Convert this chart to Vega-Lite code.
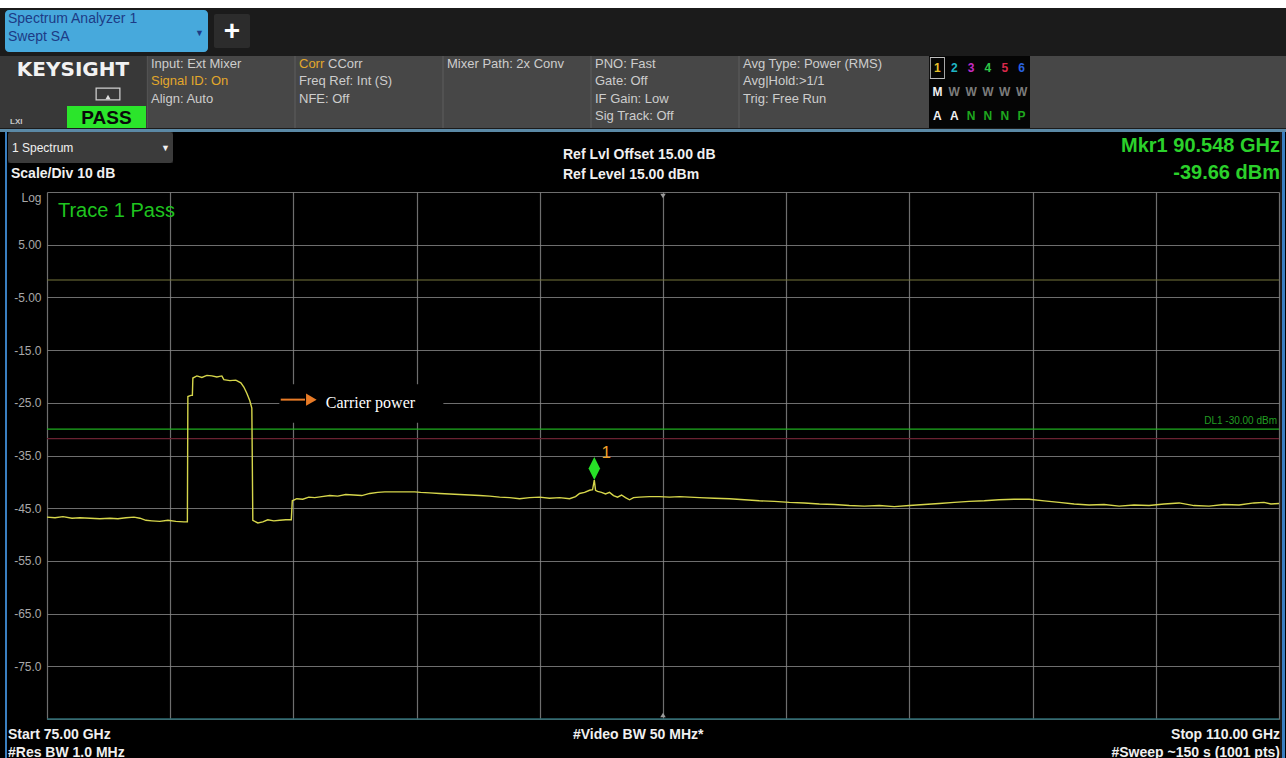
{
"$schema": "https://vega.github.io/schema/vega-lite/v6.json",
"background": "#1b1b1b",
"padding": 0,
"spacing": 0,
"resolve": {"scale": {"color": "independent", "shape": "independent"}},
"config": {
  "view": {"stroke": null},
  "concat": {"spacing": 0},
  "font": "Liberation Sans",
  "text": {"font": "Liberation Sans"},
  "axis": {"domain": false, "ticks": false, "title": null}
},
"datasets": {
  "settings": [
    {"col": 1, "line": 1, "text": "Input: Ext Mixer", "state": "normal"},
    {"col": 1, "line": 2, "text": "Signal ID: On", "state": "flag"},
    {"col": 1, "line": 3, "text": "Align: Auto", "state": "normal"},
    {"col": 2, "line": 1, "text": "Corr", "state": "flag"},
    {"col": 2, "line": 1, "text": "CCorr", "state": "normal"},
    {"col": 2, "line": 2, "text": "Freq Ref: Int (S)", "state": "normal"},
    {"col": 2, "line": 3, "text": "NFE: Off", "state": "normal"},
    {"col": 3, "line": 1, "text": "Mixer Path: 2x Conv", "state": "normal"},
    {"col": 4, "line": 1, "text": "PNO: Fast", "state": "normal"},
    {"col": 4, "line": 2, "text": "Gate: Off", "state": "normal"},
    {"col": 4, "line": 3, "text": "IF Gain: Low", "state": "normal"},
    {"col": 4, "line": 4, "text": "Sig Track: Off", "state": "normal"},
    {"col": 5, "line": 1, "text": "Avg Type: Power (RMS)", "state": "normal"},
    {"col": 5, "line": 2, "text": "Avg|Hold:>1/1", "state": "normal"},
    {"col": 5, "line": 3, "text": "Trig: Free Run", "state": "normal"}
  ],
  "traces": [
    {"r": 1, "c": 1, "ch": "1", "active": true},
    {"r": 1, "c": 2, "ch": "2", "active": false},
    {"r": 1, "c": 3, "ch": "3", "active": false},
    {"r": 1, "c": 4, "ch": "4", "active": false},
    {"r": 1, "c": 5, "ch": "5", "active": false},
    {"r": 1, "c": 6, "ch": "6", "active": false},
    {"r": 2, "c": 1, "ch": "M", "active": false},
    {"r": 2, "c": 2, "ch": "W", "active": false},
    {"r": 2, "c": 3, "ch": "W", "active": false},
    {"r": 2, "c": 4, "ch": "W", "active": false},
    {"r": 2, "c": 5, "ch": "W", "active": false},
    {"r": 2, "c": 6, "ch": "W", "active": false},
    {"r": 3, "c": 1, "ch": "A", "active": false},
    {"r": 3, "c": 2, "ch": "A", "active": false},
    {"r": 3, "c": 3, "ch": "N", "active": false},
    {"r": 3, "c": 4, "ch": "N", "active": false},
    {"r": 3, "c": 5, "ch": "N", "active": false},
    {"r": 3, "c": 6, "ch": "P", "active": false}
  ],
  "trace": [
    {"f": 75.000, "dbm": -46.7}, {"f": 75.227, "dbm": -46.8}, {"f": 75.454, "dbm": -46.6}, {"f": 75.710, "dbm": -46.9},
    {"f": 75.937, "dbm": -46.8}, {"f": 76.221, "dbm": -46.9}, {"f": 76.504, "dbm": -47.0}, {"f": 76.788, "dbm": -46.9},
    {"f": 77.015, "dbm": -47.0}, {"f": 77.242, "dbm": -46.8}, {"f": 77.470, "dbm": -46.7}, {"f": 77.640, "dbm": -46.9},
    {"f": 77.810, "dbm": -47.3}, {"f": 77.981, "dbm": -47.4}, {"f": 78.208, "dbm": -47.5}, {"f": 78.435, "dbm": -47.3},
    {"f": 78.662, "dbm": -47.5}, {"f": 78.889, "dbm": -47.6}, {"f": 78.988, "dbm": -47.6}, {"f": 79.002, "dbm": -23.8},
    {"f": 79.088, "dbm": -23.6}, {"f": 79.130, "dbm": -23.6}, {"f": 79.144, "dbm": -20.3}, {"f": 79.258, "dbm": -19.9},
    {"f": 79.400, "dbm": -20.2}, {"f": 79.542, "dbm": -19.8}, {"f": 79.684, "dbm": -19.9}, {"f": 79.826, "dbm": -20.1},
    {"f": 79.968, "dbm": -19.9}, {"f": 80.024, "dbm": -20.6}, {"f": 80.195, "dbm": -20.8}, {"f": 80.365, "dbm": -20.7},
    {"f": 80.507, "dbm": -21.2}, {"f": 80.592, "dbm": -22.0}, {"f": 80.677, "dbm": -23.2}, {"f": 80.762, "dbm": -24.6},
    {"f": 80.819, "dbm": -26.0}, {"f": 80.847, "dbm": -47.3}, {"f": 80.989, "dbm": -47.8}, {"f": 81.131, "dbm": -47.6},
    {"f": 81.273, "dbm": -47.2}, {"f": 81.444, "dbm": -47.4}, {"f": 81.614, "dbm": -47.3}, {"f": 81.784, "dbm": -47.2},
    {"f": 81.940, "dbm": -47.2}, {"f": 81.969, "dbm": -43.6}, {"f": 82.096, "dbm": -43.2}, {"f": 82.267, "dbm": -43.3},
    {"f": 82.437, "dbm": -42.9}, {"f": 82.607, "dbm": -43.0}, {"f": 82.806, "dbm": -42.8}, {"f": 83.033, "dbm": -42.6},
    {"f": 83.260, "dbm": -42.7}, {"f": 83.487, "dbm": -42.4}, {"f": 83.714, "dbm": -42.5}, {"f": 83.942, "dbm": -42.6},
    {"f": 84.169, "dbm": -42.2}, {"f": 84.396, "dbm": -42.0}, {"f": 84.594, "dbm": -41.9}, {"f": 84.878, "dbm": -41.9},
    {"f": 85.162, "dbm": -41.9}, {"f": 85.446, "dbm": -41.9}, {"f": 85.616, "dbm": -42.0}, {"f": 85.872, "dbm": -42.1},
    {"f": 86.156, "dbm": -42.2}, {"f": 86.439, "dbm": -42.3}, {"f": 86.723, "dbm": -42.4}, {"f": 87.007, "dbm": -42.5},
    {"f": 87.291, "dbm": -42.6}, {"f": 87.575, "dbm": -42.7}, {"f": 87.859, "dbm": -42.9}, {"f": 88.143, "dbm": -43.0},
    {"f": 88.426, "dbm": -43.2}, {"f": 88.710, "dbm": -43.0}, {"f": 88.994, "dbm": -42.9}, {"f": 89.278, "dbm": -43.1},
    {"f": 89.562, "dbm": -43.0}, {"f": 89.846, "dbm": -43.2}, {"f": 90.016, "dbm": -42.8}, {"f": 90.130, "dbm": -42.2},
    {"f": 90.272, "dbm": -42.0}, {"f": 90.414, "dbm": -41.6}, {"f": 90.499, "dbm": -41.5}, {"f": 90.548, "dbm": -39.66},
    {"f": 90.584, "dbm": -41.6}, {"f": 90.641, "dbm": -41.8}, {"f": 90.754, "dbm": -42.0}, {"f": 90.868, "dbm": -42.3},
    {"f": 90.981, "dbm": -42.0}, {"f": 91.095, "dbm": -42.6}, {"f": 91.208, "dbm": -42.9}, {"f": 91.322, "dbm": -42.5},
    {"f": 91.435, "dbm": -43.0}, {"f": 91.549, "dbm": -43.4}, {"f": 91.663, "dbm": -43.0}, {"f": 91.833, "dbm": -42.9},
    {"f": 92.117, "dbm": -42.8}, {"f": 92.400, "dbm": -42.8}, {"f": 92.684, "dbm": -42.9}, {"f": 92.968, "dbm": -42.8},
    {"f": 93.252, "dbm": -42.9}, {"f": 93.536, "dbm": -43.0}, {"f": 93.962, "dbm": -43.1}, {"f": 94.387, "dbm": -43.2},
    {"f": 94.813, "dbm": -43.4}, {"f": 95.239, "dbm": -43.6}, {"f": 95.665, "dbm": -43.7}, {"f": 96.091, "dbm": -43.9},
    {"f": 96.516, "dbm": -44.0}, {"f": 96.942, "dbm": -44.2}, {"f": 97.368, "dbm": -44.3}, {"f": 97.794, "dbm": -44.5},
    {"f": 98.219, "dbm": -44.6}, {"f": 98.645, "dbm": -44.5}, {"f": 99.071, "dbm": -44.7}, {"f": 99.497, "dbm": -44.5},
    {"f": 99.923, "dbm": -44.3}, {"f": 100.348, "dbm": -44.1}, {"f": 100.774, "dbm": -43.9}, {"f": 101.200, "dbm": -43.7},
    {"f": 101.626, "dbm": -43.6}, {"f": 102.051, "dbm": -43.4}, {"f": 102.477, "dbm": -43.3}, {"f": 102.903, "dbm": -43.3},
    {"f": 103.329, "dbm": -43.6}, {"f": 103.755, "dbm": -43.9}, {"f": 104.180, "dbm": -44.2}, {"f": 104.606, "dbm": -44.4},
    {"f": 105.032, "dbm": -44.3}, {"f": 105.458, "dbm": -44.6}, {"f": 105.883, "dbm": -44.4}, {"f": 106.309, "dbm": -44.5},
    {"f": 106.735, "dbm": -44.2}, {"f": 107.161, "dbm": -44.0}, {"f": 107.586, "dbm": -44.5}, {"f": 108.012, "dbm": -44.6},
    {"f": 108.438, "dbm": -44.3}, {"f": 108.864, "dbm": -44.4}, {"f": 109.290, "dbm": -44.0}, {"f": 109.574, "dbm": -43.9},
    {"f": 109.772, "dbm": -44.2}, {"f": 110.000, "dbm": -44.1}
  ],
  "marker": [{"f": 90.548, "dbm": -39.66, "label": "1"}],
  "dl": [{"f": 75, "f2": 110, "dbm": -30}],
  "dl_label": [{"f": 110, "dbm": -30, "label": "DL1 -30.00 dBm"}],
  "limits": [
    {"f": 75, "f2": 110, "dbm": -1.7, "kind": "upper"},
    {"f": 75, "f2": 110, "dbm": -31.8, "kind": "lower"}
  ],
  "frame": [{"f": 75, "f2": 110, "dbm": -85}],
  "box": [{"f": 81.6, "f2": 86.26, "dbm": -21.5, "dbm2": -28.8}],
  "arrow": [{"f": 81.64, "f2": 82.33, "dbm": -24.4}],
  "arrow_head": [{"f": 82.51, "dbm": -24.4}],
  "annot_text": [{"f": 82.92, "dbm": -25.1, "label": "Carrier power"}],
  "status": [{"f": 75.31, "dbm": 11.4, "label": "Trace 1 Pass"}],
  "tri_top": [{"f": 92.5, "dbm": 15}],
  "tri_bottom": [{"f": 92.5, "dbm": -85}]
},
"vconcat": [
  {"width": 1286, "height": 8, "view": {"fill": "#ffffff"}, "data": {"values": []}, "mark": "rect"},
  {"hconcat": [
    {"width": 5, "height": 47, "data": {"values": []}, "mark": "rect"},
    {"vconcat": [
      {"width": 203, "height": 2, "data": {"values": []}, "mark": "rect"},
      {"width": 203, "height": 42, "view": {"fill": "#47a9dc", "cornerRadius": 4},
       "data": {"values": [{"name": "Spectrum Analyzer 1\nSwept SA", "caret": "▼"}]},
       "layer": [
         {"mark": {"type": "text", "align": "left", "baseline": "middle", "fontSize": 14, "lineBreak": "\n", "lineHeight": 18, "color": "#1d3b86", "dx": 3, "dy": -12},
          "encoding": {"text": {"field": "name"}, "x": {"datum": 0, "type": "quantitative", "scale": {"domain": [0, 1]}, "axis": null}}},
         {"mark": {"type": "text", "align": "right", "baseline": "middle", "fontSize": 9, "color": "#1d3b86", "dx": -4, "dy": 2},
          "encoding": {"text": {"field": "caret"}, "x": {"datum": 1, "type": "quantitative", "scale": {"domain": [0, 1]}, "axis": null}}}
       ]},
      {"width": 203, "height": 3, "data": {"values": []}, "mark": "rect"}
    ], "spacing": 0},
    {"width": 6, "height": 47, "data": {"values": []}, "mark": "rect"},
    {"vconcat": [
      {"width": 36, "height": 6, "data": {"values": []}, "mark": "rect"},
      {"width": 36, "height": 34, "view": {"fill": "#2c2c2c", "cornerRadius": 2},
       "data": {"values": [{"t": "+"}]},
       "mark": {"type": "text", "baseline": "middle", "fontSize": 28, "fontWeight": "bold", "color": "#ffffff", "dy": 1},
       "encoding": {"text": {"field": "t"}}},
      {"width": 36, "height": 7, "data": {"values": []}, "mark": "rect"}
    ], "spacing": 0},
    {"width": 1036, "height": 47, "data": {"values": []}, "mark": "rect"}
  ], "spacing": 0},
  {"hconcat": [
    {"vconcat": [
      {"width": 146, "height": 30, "view": {"fill": "#383838"}, "data": {"values": [{"t": "KEYSIGHT"}]},
       "mark": {"type": "text", "font": "DejaVu Sans", "fontWeight": "bold", "fontSize": 20, "color": "#f2f2f2", "baseline": "middle", "dy": -1},
       "encoding": {"text": {"field": "t"}}},
      {"hconcat": [
        {"width": 94, "height": 20, "view": {"fill": "#383838"}, "data": {"values": []}, "mark": "rect"},
        {"vconcat": [
          {"width": 28, "height": 16, "view": {"fill": "#383838"},
           "data": {"values": [{"s": "screen"}]},
           "layer": [
             {"mark": {"type": "point", "shape": "M-1,-0.52L1,-0.52L1,0.52L-1,0.52Z M-0.9,-0.42L-0.9,0.42L0.9,0.42L0.9,-0.42Z", "filled": true, "color": "#cfcfcf", "size": 625, "opacity": 1}},
             {"mark": {"type": "point", "shape": "triangle-up", "filled": true, "color": "#e0e0e0", "size": 25, "yOffset": 3, "opacity": 1}}
           ]},
          {"width": 28, "height": 4, "view": {"fill": "#383838"}, "data": {"values": []}, "mark": "rect"}
        ], "spacing": 0},
        {"width": 24, "height": 20, "view": {"fill": "#383838"}, "data": {"values": []}, "mark": "rect"}
      ], "spacing": 0},
      {"hconcat": [
        {"width": 67, "height": 22, "view": {"fill": "#383838"}, "data": {"values": [{"t": "LXI"}]},
         "mark": {"type": "text", "align": "left", "baseline": "middle", "fontSize": 8, "fontWeight": "bold", "color": "#c8c8c8", "dx": 10, "dy": 5},
         "encoding": {"text": {"field": "t"}, "x": {"datum": 0, "type": "quantitative", "scale": {"domain": [0, 1]}, "axis": null}}},
        {"width": 79, "height": 22, "view": {"fill": "#2be52b"}, "data": {"values": [{"t": "PASS"}]},
         "mark": {"type": "text", "baseline": "middle", "fontSize": 19, "fontWeight": "bold", "color": "#0a0a0a", "dy": 1},
         "encoding": {"text": {"field": "t"}}}
      ], "spacing": 0}
    ], "spacing": 0},
    {"width": 740, "height": 72, "view": {"fill": "#474747"},
     "data": {"name": "settings"},
     "encoding": {"x": {"field": "col", "type": "ordinal", "scale": {"type": "band", "domain": [1, 2, 3, 4, 5], "paddingInner": 0, "paddingOuter": 0}, "bandPosition": 0, "axis": null}},
     "layer": [
       {"transform": [{"filter": "datum.line == 1 && datum.text != 'CCorr'"}],
        "mark": {"type": "rule", "color": "#5e5e5e", "strokeWidth": 1}},
       {"transform": [{"filter": "datum.text != 'CCorr'"}],
        "mark": {"type": "text", "align": "left", "baseline": "middle", "fontSize": 13, "dx": 4},
        "encoding": {
          "text": {"field": "text"},
          "y": {"field": "line", "type": "ordinal", "scale": {"type": "point", "domain": [1, 2, 3, 4], "range": [8, 60], "padding": 0}, "axis": null},
          "color": {"field": "state", "type": "nominal", "scale": {"domain": ["normal", "flag"], "range": ["#cdcdcd", "#e3a82b"]}, "legend": null}}},
       {"transform": [{"filter": "datum.text == 'CCorr'"}],
        "mark": {"type": "text", "align": "left", "baseline": "middle", "fontSize": 13, "dx": 33},
        "encoding": {
          "text": {"field": "text"},
          "y": {"field": "line", "type": "ordinal", "scale": {"type": "point", "domain": [1, 2, 3, 4], "range": [8, 60], "padding": 0}, "axis": null},
          "color": {"field": "state", "type": "nominal", "scale": {"domain": ["normal", "flag"], "range": ["#cdcdcd", "#e3a82b"]}, "legend": null}}}
     ]},
    {"width": 42, "height": 72, "view": {"fill": "#474747"}, "data": {"values": []}, "mark": "rect"},
    {"width": 101, "height": 72, "view": {"fill": "#050505"},
     "data": {"name": "traces"},
     "encoding": {
       "x": {"field": "c", "type": "ordinal", "scale": {"type": "band", "domain": [1, 2, 3, 4, 5, 6], "paddingInner": 0, "paddingOuter": 0}, "axis": null},
       "y": {"field": "r", "type": "ordinal", "scale": {"type": "band", "domain": [1, 2, 3], "paddingInner": 0, "paddingOuter": 0}, "axis": null}},
     "layer": [
       {"transform": [{"filter": "datum.active"}],
        "mark": {"type": "point", "shape": "M-0.68,-1L0.68,-1L0.68,1L-0.68,1Z M-0.6,-0.92L-0.6,0.92L0.6,0.92L0.6,-0.92Z", "filled": true, "color": "#bdbdbd", "size": 484, "opacity": 1}},
       {"mark": {"type": "text", "fontSize": 12, "fontWeight": "bold", "baseline": "middle"},
        "encoding": {
          "text": {"field": "ch"},
          "color": {"field": "ch", "type": "nominal", "scale": {"domain": ["1", "2", "3", "4", "5", "6", "M", "W", "A", "N", "P"], "range": ["#e6c02a", "#1fb6c6", "#c42bc4", "#2ec84a", "#d8284a", "#2a62e0", "#f0f0f0", "#7c7c7c", "#f0f0f0", "#1fa81f", "#1fa81f"]}, "legend": null}}}
     ]},
    {"width": 257, "height": 72, "view": {"fill": "#474747"}, "data": {"values": []}, "mark": "rect"}
  ], "spacing": 0, "resolve": {"scale": {"color": "independent"}}},
  {"width": 1286, "height": 3, "view": {"fill": "#5b89a6"}, "data": {"values": []}, "mark": "rect"},
  {"hconcat": [
    {"width": 5, "height": 628, "view": {"fill": "#000000"}, "data": {"values": []}, "mark": "rect"},
    {"width": 2, "height": 628, "view": {"fill": "#3a7fc0"}, "data": {"values": []}, "mark": "rect"},
    {"width": 1, "height": 628, "view": {"fill": "#000000"}, "data": {"values": []}, "mark": "rect"},
    {"vconcat": [
      {"hconcat": [
        {"width": 165, "height": 31, "view": {"fill": "#3b3b3b", "cornerRadius": 3},
         "data": {"values": [{"t": "1 Spectrum", "caret": "▼"}]},
         "layer": [
           {"mark": {"type": "text", "align": "left", "baseline": "middle", "fontSize": 12, "color": "#f0f0f0", "dx": 4},
            "encoding": {"text": {"field": "t"}, "x": {"datum": 0, "type": "quantitative", "scale": {"domain": [0, 1]}, "axis": null}}},
           {"mark": {"type": "text", "align": "right", "baseline": "middle", "fontSize": 9, "color": "#f0f0f0", "dx": -3},
            "encoding": {"text": {"field": "caret"}, "x": {"datum": 1, "type": "quantitative", "scale": {"domain": [0, 1]}, "axis": null}}}
         ]},
        {"width": 390, "height": 31, "view": {"fill": "#000000"}, "data": {"values": []}, "mark": "rect"},
        {"width": 717, "height": 31, "view": {"fill": "#000000"},
         "data": {"values": [{"ref": "Ref Lvl Offset 15.00 dB", "mkr": "Mkr1 90.548 GHz"}]},
         "layer": [
           {"mark": {"type": "text", "align": "left", "baseline": "middle", "fontSize": 14, "fontWeight": "bold", "color": "#f0f0f0", "dy": 7},
            "encoding": {"text": {"field": "ref"}, "x": {"datum": 0, "type": "quantitative", "scale": {"domain": [0, 1]}, "axis": null}}},
           {"mark": {"type": "text", "align": "right", "baseline": "middle", "fontSize": 20, "fontWeight": "bold", "color": "#2bd12b", "dy": -2},
            "encoding": {"text": {"field": "mkr"}, "x": {"datum": 1, "type": "quantitative", "scale": {"domain": [0, 1]}, "axis": null}}}
         ]}
      ], "spacing": 0},
      {"hconcat": [
        {"width": 555, "height": 28, "view": {"fill": "#000000"},
         "data": {"values": [{"t": "Scale/Div 10 dB"}]},
         "mark": {"type": "text", "align": "left", "baseline": "middle", "fontSize": 14, "fontWeight": "bold", "color": "#f0f0f0", "dx": 3, "dy": -3},
         "encoding": {"text": {"field": "t"}, "x": {"datum": 0, "type": "quantitative", "scale": {"domain": [0, 1]}, "axis": null}}},
        {"width": 717, "height": 28, "view": {"fill": "#000000"},
         "data": {"values": [{"ref": "Ref Level 15.00 dBm", "amp": "-39.66 dBm"}]},
         "layer": [
           {"mark": {"type": "text", "align": "left", "baseline": "middle", "fontSize": 14, "fontWeight": "bold", "color": "#f0f0f0", "dy": -2},
            "encoding": {"text": {"field": "ref"}, "x": {"datum": 0, "type": "quantitative", "scale": {"domain": [0, 1]}, "axis": null}}},
           {"mark": {"type": "text", "align": "right", "baseline": "middle", "fontSize": 20, "fontWeight": "bold", "color": "#2bd12b", "dy": -4},
            "encoding": {"text": {"field": "amp"}, "x": {"datum": 1, "type": "quantitative", "scale": {"domain": [0, 1]}, "axis": null}}}
         ]}
      ], "spacing": 0},
      {"width": 1272, "height": 529, "view": {"fill": "#000000"},
       "encoding": {
         "x": {"field": "f", "type": "quantitative",
               "scale": {"domain": [75, 110], "range": [39, 1271], "nice": false, "zero": false},
               "axis": {"values": [75, 78.5, 82, 85.5, 89, 92.5, 96, 99.5, 103, 106.5, 110], "grid": true, "gridColor": "#8a8a8a", "gridWidth": 1.2, "gridOpacity": 0.8, "labels": false, "ticks": false, "domain": false, "title": null}},
         "y": {"field": "dbm", "type": "quantitative",
               "scale": {"domain": [-85, 15], "range": [528, 1], "nice": false, "zero": false},
               "axis": {"values": [15, 5, -5, -15, -25, -35, -45, -55, -65, -75, -85], "grid": true, "gridColor": "#8a8a8a", "gridWidth": 1.2, "gridOpacity": 0.8, "ticks": false, "domain": false, "title": null, "offset": -34, "labelPadding": 1, "labelFlush": true, "labelFontSize": 12, "labelColor": "#a8a8a8", "labelFont": "Liberation Sans", "labelExpr": "datum.value == 15 ? 'Log' : (datum.value == -85 ? '' : replace(format(datum.value, '.3r'), '−', '-'))"}}
       },
       "layer": [
         {"data": {"name": "limits"}, "mark": {"type": "rule", "strokeWidth": 1.2},
          "encoding": {"x2": {"field": "f2"}, "color": {"field": "kind", "type": "nominal", "scale": {"domain": ["upper", "lower"], "range": ["#77773c", "#6a2232"]}, "legend": null}}},
         {"data": {"name": "box"}, "mark": {"type": "rect", "color": "#000000"},
          "encoding": {"x2": {"field": "f2"}, "y2": {"field": "dbm2"}}},
         {"data": {"name": "dl"}, "mark": {"type": "rule", "color": "#1fae1f", "strokeWidth": 1.3},
          "encoding": {"x2": {"field": "f2"}}},
         {"data": {"name": "dl_label"}, "mark": {"type": "text", "align": "right", "baseline": "middle", "fontSize": 10, "color": "#229e22", "dx": -2, "dy": -8},
          "encoding": {"text": {"field": "label"}}},
         {"data": {"name": "frame"}, "mark": {"type": "rule", "color": "#2d6b73", "strokeWidth": 1.5},
          "encoding": {"x2": {"field": "f2"}}},
         {"data": {"name": "tri_top"}, "mark": {"type": "point", "shape": "triangle-down", "filled": true, "color": "#9a9a9a", "size": 30, "yOffset": 4, "opacity": 1}},
         {"data": {"name": "tri_bottom"}, "mark": {"type": "point", "shape": "triangle-up", "filled": true, "color": "#9a9a9a", "size": 30, "yOffset": -4, "opacity": 1}},
         {"data": {"name": "trace"}, "mark": {"type": "line", "color": "#d6d64b", "strokeWidth": 1.4}},
         {"data": {"name": "marker"}, "mark": {"type": "point", "shape": "M0,-1L0.5,0L0,1L-0.5,0Z", "filled": true, "color": "#27e027", "size": 529, "yOffset": -11.5, "opacity": 1}},
         {"data": {"name": "marker"}, "mark": {"type": "text", "align": "center", "baseline": "middle", "fontSize": 17, "color": "#f0a12a", "dx": 12, "dy": -27},
          "encoding": {"text": {"field": "label"}}},
         {"data": {"name": "arrow"}, "mark": {"type": "rule", "color": "#e87b27", "strokeWidth": 2},
          "encoding": {"x2": {"field": "f2"}}},
         {"data": {"name": "arrow_head"}, "mark": {"type": "point", "shape": "triangle-right", "filled": true, "color": "#e87b27", "size": 150, "opacity": 1}},
         {"data": {"name": "annot_text"}, "mark": {"type": "text", "align": "left", "baseline": "middle", "font": "Liberation Serif", "fontSize": 16, "color": "#ffffff"},
          "encoding": {"text": {"field": "label"}}},
         {"data": {"name": "status"}, "mark": {"type": "text", "align": "left", "baseline": "middle", "fontSize": 20, "color": "#1fc41f"},
          "encoding": {"text": {"field": "label"}}}
       ]},
      {"hconcat": [
        {"width": 565, "height": 40, "view": {"fill": "#000000"},
         "data": {"values": [{"t": "Start 75.00 GHz\n#Res BW 1.0 MHz"}]},
         "mark": {"type": "text", "align": "left", "baseline": "middle", "fontSize": 14, "fontWeight": "bold", "color": "#f0f0f0", "lineBreak": "\n", "lineHeight": 18, "dy": -5},
         "encoding": {"text": {"field": "t"}, "x": {"datum": 0, "type": "quantitative", "scale": {"domain": [0, 1]}, "axis": null}}},
        {"width": 707, "height": 40, "view": {"fill": "#000000"},
         "data": {"values": [{"video": "#Video BW 50 MHz*", "stop": "Stop 110.00 GHz\n#Sweep ~150 s (1001 pts)"}]},
         "layer": [
           {"mark": {"type": "text", "align": "left", "baseline": "middle", "fontSize": 14, "fontWeight": "bold", "color": "#f0f0f0", "dy": -5},
            "encoding": {"text": {"field": "video"}, "x": {"datum": 0, "type": "quantitative", "scale": {"domain": [0, 1]}, "axis": null}}},
           {"mark": {"type": "text", "align": "right", "baseline": "middle", "fontSize": 14, "fontWeight": "bold", "color": "#f0f0f0", "lineBreak": "\n", "lineHeight": 18, "dy": -5},
            "encoding": {"text": {"field": "stop"}, "x": {"datum": 1, "type": "quantitative", "scale": {"domain": [0, 1]}, "axis": null}}}
         ]}
      ], "spacing": 0}
    ], "spacing": 0, "resolve": {"scale": {"color": "independent", "shape": "independent"}}},
    {"width": 3, "height": 628, "view": {"fill": "#3a7fc0"}, "data": {"values": []}, "mark": "rect"},
    {"width": 3, "height": 628, "view": {"fill": "#000000"}, "data": {"values": []}, "mark": "rect"}
  ], "spacing": 0, "resolve": {"scale": {"color": "independent", "shape": "independent"}}}
]
}
